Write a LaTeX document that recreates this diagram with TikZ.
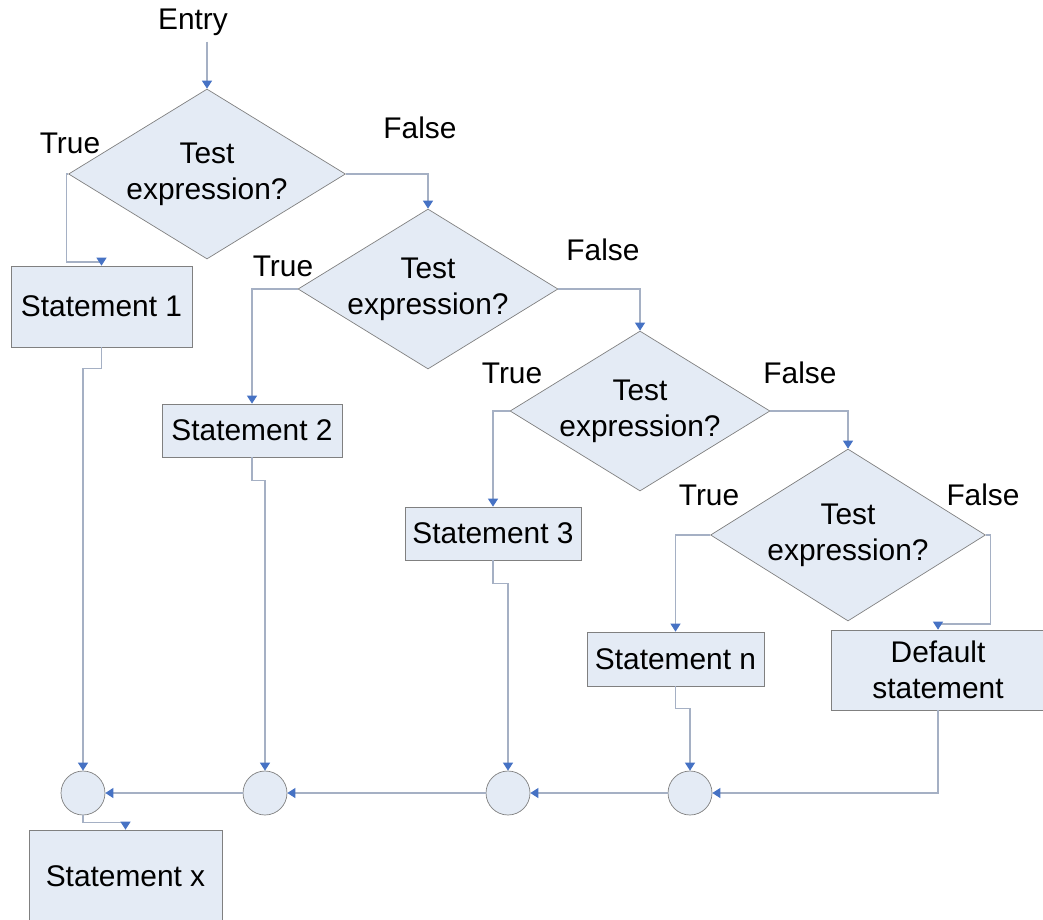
\documentclass[tikz,border=0pt]{standalone}
\usepackage{fontspec}
\setmainfont{Liberation Sans}
\usetikzlibrary{shapes.geometric,arrows.meta}
\definecolor{boxfill}{RGB}{228,235,245}
\definecolor{boxline}{RGB}{128,128,128}
\definecolor{flowline}{RGB}{165,176,196}
\definecolor{tipblue}{RGB}{70,114,196}
\begin{document}
\begin{tikzpicture}[x=0.02cm,y=-0.02cm,
        every node/.style={font=\fontsize{17}{20.5}\selectfont},
        test/.style={diamond,aspect=1.63,draw=boxline,fill=boxfill,inner xsep=-6pt,inner ysep=-2pt,align=center,minimum width=5.2cm,minimum height=3.2cm},
        stmt/.style={rectangle,draw=boxline,fill=boxfill,align=center,inner sep=0pt},
        joint/.style={circle,draw=boxline,fill=boxfill,minimum size=0.88cm,inner sep=0pt},
        flow/.style={draw=flowline,line width=0.6pt,-{Triangle[length=0.16cm,width=0.2cm,color=tipblue]}}]
        \useasboundingbox (0,0) rectangle (1043,919);
        \node (entry) at (193,22) {Entry};
        \node[test,minimum width=5.54cm,minimum height=3.4cm] (d1) at (207,174) {Test\\expression?};
        \node[test] (d2) at (428,289) {Test\\expression?};
        \node[test] (d3) at (640,411) {Test\\expression?};
        \node[test,minimum width=5.5cm,minimum height=3.44cm] (d4) at (848,535) {Test\\expression?};
        \node (t1) at (70,143) {True};
        \node (f1) at (420,128) {False};
        \node (t2) at (283,266) {True};
        \node (f2) at (603,250) {False};
        \node (t3) at (512,373) {True};
        \node (f3) at (800,373) {False};
        \node (t4) at (709,495) {True};
        \node (f4) at (983,495) {False};
        \node[stmt,minimum width=3.62cm,minimum height=1.62cm] (s1) at (101.5,306.5) {Statement 1};
        \node[stmt,minimum width=3.6cm,minimum height=1.06cm] (s2) at (252,430.5) {Statement 2};
        \node[stmt,minimum width=3.52cm,minimum height=1.06cm] (s3) at (493,533.5) {Statement 3};
        \node[stmt,minimum width=3.54cm,minimum height=1.08cm] (sn) at (675.5,659) {Statement n};
        \node[stmt,minimum width=4.28cm,minimum height=1.6cm] (sd) at (938,670) {Default\\statement};
        \node[stmt,minimum width=3.86cm,minimum height=1.84cm] (sx) at (125.5,876) {Statement x};
        \node[joint] (c1) at (83,793) {};
        \node[joint] (c2) at (265,793) {};
        \node[joint] (c3) at (508,793) {};
        \node[joint] (c4) at (690,793) {};

        \draw[flow] (entry.south -| d1.north) -- (d1.north);
        \draw[flow] (d1.west) -- ++(-2,0) -- ++(0,88) -| (s1.north);
        \draw[flow] (d1.east) -| (d2.north);
        \draw[flow] (d2.west) -| (s2.north);
        \draw[flow] (d2.east) -| (d3.north);
        \draw[flow] (d3.west) -| (s3.north);
        \draw[flow] (d3.east) -| (d4.north);
        \draw[flow] (d4.west) -| (sn.north);
        \draw[flow] (d4.east) -- ++(5,0) -- ++(0,89) -| (sd.north);
        \draw[flow] (s1.south) -- ++(0,21) -| (c1.north);
        \draw[flow] (s2.south) -- ++(0,23) -| (c2.north);
        \draw[flow] (s3.south) -- ++(0,23) -| (c3.north);
        \draw[flow] (sn.south) -- ++(0,22) -| (c4.north);
        \draw[flow] (sd.south) |- (c4.east);
        \draw[flow] (c4.west) -- (c3.east);
        \draw[flow] (c3.west) -- (c2.east);
        \draw[flow] (c2.west) -- (c1.east);
        \draw[flow] (c1.south) -- ++(0,7) -| (sx.north);
      \end{tikzpicture}
\end{document}
